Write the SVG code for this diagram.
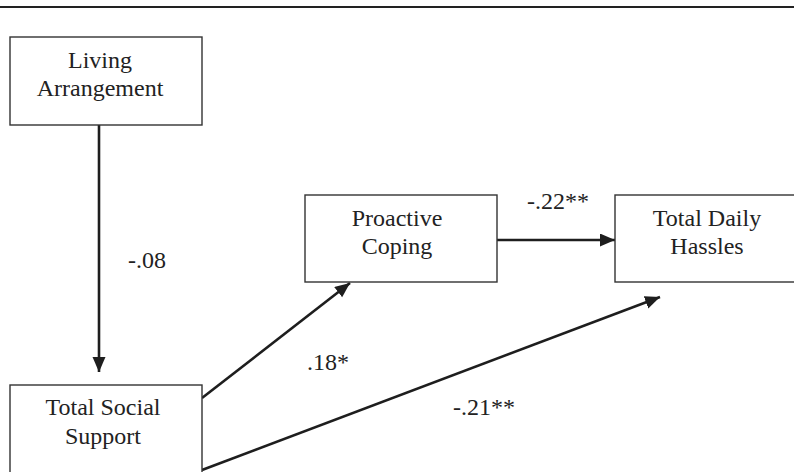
<svg xmlns="http://www.w3.org/2000/svg" width="794" height="472" viewBox="0 0 794 472" font-family="'Liberation Serif', 'Times New Roman', Times, serif">
  <style>
    .box { fill: #ffffff; stroke: #333333; stroke-width: 1.4; }
    .lbl { font-family: 'Liberation Serif', 'Times New Roman', Times, serif; font-size: 24px; fill: #222222; }
    .mid { text-anchor: middle; }
    .edge { stroke: #1e1e1e; stroke-width: 2.6; fill: none; marker-end: url(#arrow); }
  </style>
  <defs>
    <marker id="arrow" markerUnits="userSpaceOnUse" markerWidth="16" markerHeight="14" refX="15" refY="6.5" orient="auto">
      <path d="M0,0 L15,6.5 L0,13 z" fill="#1e1e1e"/>
    </marker>
  </defs>
  <rect width="794" height="472" fill="#ffffff"/>
  <line x1="0" y1="7" x2="794" y2="7" stroke="#222222" stroke-width="2"/>

  <g id="connectors">
    <line class="edge" x1="99" y1="125" x2="99" y2="372"/>
    <line class="edge" x1="497" y1="240" x2="615" y2="240"/>
    <line class="edge" x1="202" y1="398" x2="350" y2="283"/>
    <line class="edge" x1="202" y1="470" x2="660" y2="297"/>
    <text class="lbl" x="128" y="268">-.08</text>
    <text class="lbl" x="527" y="209">-.22**</text>
    <text class="lbl" x="307" y="370">.18*</text>
    <text class="lbl" x="453" y="415">-.21**</text>
  </g>

  <g id="living-arrangement">
    <rect class="box" x="10" y="37" width="192" height="88"/>
    <text class="lbl mid" x="100" y="68">Living</text>
    <text class="lbl mid" x="100" y="96">Arrangement</text>
  </g>

  <g id="total-social-support">
    <rect class="box" x="10" y="385" width="192" height="100"/>
    <text class="lbl mid" x="103" y="415">Total Social</text>
    <text class="lbl mid" x="103" y="444">Support</text>
  </g>

  <g id="proactive-coping">
    <rect class="box" x="305" y="195" width="192" height="87"/>
    <text class="lbl mid" x="397" y="226">Proactive</text>
    <text class="lbl mid" x="397" y="254">Coping</text>
  </g>

  <g id="total-daily-hassles">
    <rect class="box" x="615" y="195" width="190" height="87"/>
    <text class="lbl mid" x="707" y="226">Total Daily</text>
    <text class="lbl mid" x="707" y="254">Hassles</text>
  </g>
</svg>
